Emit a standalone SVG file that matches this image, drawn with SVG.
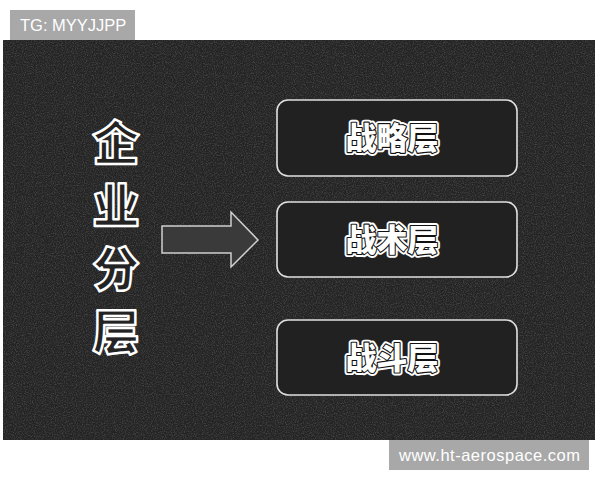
<svg xmlns="http://www.w3.org/2000/svg" width="600" height="480" viewBox="0 0 600 480">
<defs>
<filter id="noise" x="0" y="0" width="100%" height="100%">
<feTurbulence type="fractalNoise" baseFrequency="0.9" numOctaves="2" seed="3" result="t"/>
<feColorMatrix in="t" type="matrix" values="0 0 0 0 1  0 0 0 0 1  0 0 0 0 1  0 0 0 1.2 -0.5" result="n"/>
<feComposite in="n" in2="SourceGraphic" operator="in"/>
</filter>
</defs>
<style>
.box{fill:#212121;stroke:#e0e0e0;stroke-width:1.6}
.lbl{font-family:"Noto Sans CJK SC",sans-serif;font-weight:900;font-size:31px;text-anchor:middle}
.lo{fill:none;stroke:#fff;stroke-width:6;stroke-linejoin:round}
.li{fill:#fff;stroke:#111;stroke-width:2.2;stroke-linejoin:round;paint-order:stroke}
.vt{font-family:"Noto Sans CJK SC",sans-serif;font-weight:900;font-size:47px;text-anchor:middle;fill:#232323;stroke:#fff;stroke-width:2.4;stroke-linejoin:round}
.tag{fill:#a8a8a8}
.tagt{font-family:"Liberation Sans",Arial,sans-serif;font-size:16.5px;fill:#fff}
</style>
<rect width="600" height="480" fill="#fff"/>
<rect x="3" y="40" width="592" height="400" fill="#242424"/>
<rect x="3" y="40" width="592" height="400" fill="#242424" filter="url(#noise)" opacity="0.3"/>
<g id="tg"><rect class="tag" x="10" y="10" width="125" height="30"/><text class="tagt" x="20" y="31">TG: MYYJJPP</text></g>
<g id="site"><rect class="tag" x="389" y="440" width="200" height="30"/><text class="tagt" x="399" y="461" textLength="181" lengthAdjust="spacing">www.ht-aerospace.com</text></g>
<g id="title">
<text class="vt" x="116" y="160">企</text>
<text class="vt" x="116" y="223">业</text>
<text class="vt" x="116" y="286">分</text>
<text class="vt" x="116" y="349">层</text>
</g>
<g id="connectors">
<path d="M162,226 H231 V212 L258,240 L231,267 V253 H162 Z" fill="#3a3a3a" stroke="#d0d0d0" stroke-width="1.5"/>
</g>
<g id="strategy">
<rect class="box" x="277" y="100" width="240" height="76" rx="11"/>
<text class="lbl lo" x="392" y="149">战略层</text><text class="lbl li" x="392" y="149">战略层</text>
</g>
<g id="tactics">
<rect class="box" x="277" y="202" width="240" height="75" rx="11"/>
<text class="lbl lo" x="392" y="251">战术层</text><text class="lbl li" x="392" y="251">战术层</text>
</g>
<g id="combat">
<rect class="box" x="277" y="320" width="240" height="75" rx="11"/>
<text class="lbl lo" x="392" y="369">战斗层</text><text class="lbl li" x="392" y="369">战斗层</text>
</g>
</svg>
